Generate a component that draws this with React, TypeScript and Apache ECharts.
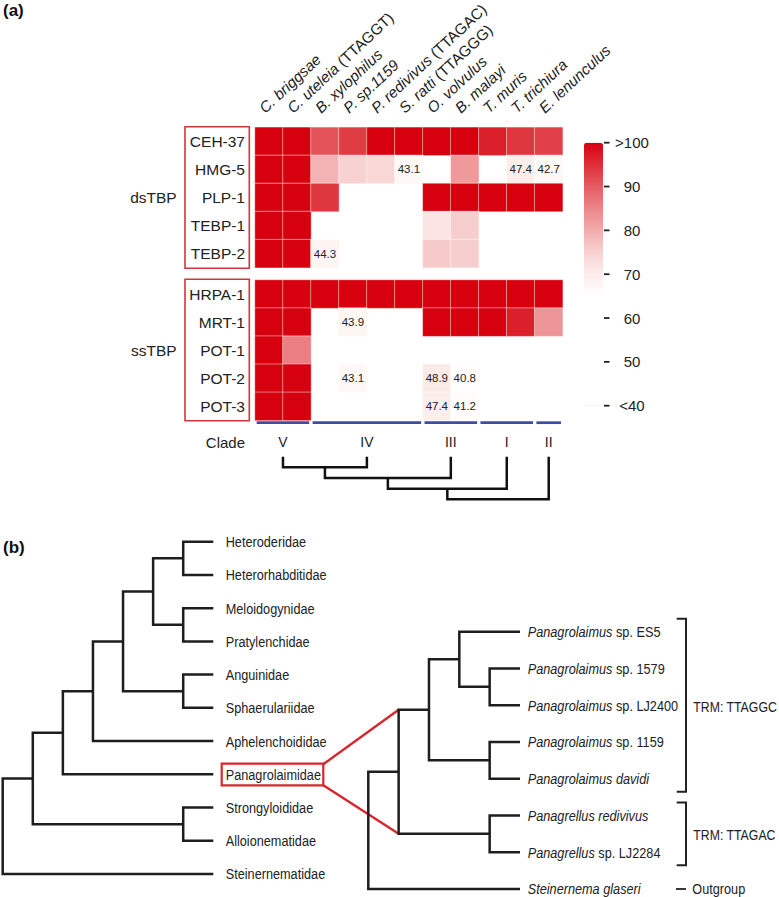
import React, { useEffect, useRef } from 'react';
import * as echarts from 'echarts';

// ---------- data ----------
const speciesNames = ['C. briggsae', 'C. uteleia', 'B. xylophilus', 'P. sp.1159', 'P. redivivus', 'S. ratti', 'O. volvulus', 'B. malayi', 'T. muris', 'T. trichiura', 'E. lenunculus'];
const speciesMotifs = ['', '(TTAGGT)', '', '', '(TTAGAC)', '(TTAGGG)', '', '', '', '', ''];

const dsRows = ['CEH-37', 'HMG-5', 'PLP-1', 'TEBP-1', 'TEBP-2'];
const ssRows = ['HRPA-1', 'MRT-1', 'POT-1', 'POT-2', 'POT-3'];

const N = null;
const dsValues: (number | null)[][] = [
  [100, 100, 91, 93.5, 100, 100, 100, 100, 96.5, 94, 93],
  [100, 100, 79, 75, 74, 43.1, N, 82.5, N, 47.4, 42.7],
  [100, 100, 94, N, N, N, 100, 100, 100, 100, 100],
  [100, 100, N, N, N, N, 71.5, 75.5, N, N, N],
  [100, 100, 44.3, N, N, N, 76, 75.5, N, N, N],
];
const ssValues: (number | null)[][] = [
  [100, 100, 100, 100, 100, 100, 100, 100, 100, 100, 100],
  [100, 100, N, 43.9, N, N, 100, 100, 100, 96.5, 83],
  [100, 86, N, N, N, N, N, N, N, N, N],
  [100, 100, N, 43.1, N, N, 48.9, 40.8, N, N, N],
  [100, 100, N, N, N, N, 47.4, 41.2, N, N, N],
];

const colorTicks = [40, 50, 60, 70, 80, 90, 100];
const colorTickLabels = ['<40', '50', '60', '70', '80', '90', '>100'];
// colour stops every 5 units from 40 to 100
const cellColorStops = ['#ffffff', '#fdf3f0', '#fbe9e3', '#fdf0ec', '#fff6f4', '#fffafa', '#fdecec', '#f8d2d2', '#f2abac', '#ec878a', '#e55c62', '#de2e37', '#d7000f'];
const barColorStops = ['#ffffff', '#ffffff', '#ffffff', '#ffffff', '#ffffff', '#ffffff', '#fdecec', '#f8d2d2', '#f2abac', '#ec878a', '#e55c62', '#de2e37', '#d7000f'];

const cladeNames = ['V', 'IV', 'III', 'I', 'II'];
const cladeStart = [0, 2, 6, 8, 10];
const cladeEnd = [2, 6, 8, 10, 11];
const cladeTree: any = [[[[0, 1], 2], 3], 4];

const familyLeaves = ['Heteroderidae', 'Heterorhabditidae', 'Meloidogynidae', 'Pratylenchidae', 'Anguinidae', 'Sphaerulariidae', 'Aphelenchoididae', 'Panagrolaimidae', 'Strongyloididae', 'Alloionematidae', 'Steinernematidae'];
const familyTree: any = [[[[[[[0, 1], [2, 3]], [4, 5]], 6], 7], [8, 9]], 10];
const zoomedFamily = 7;

const speciesItalic = ['Panagrolaimus', 'Panagrolaimus', 'Panagrolaimus', 'Panagrolaimus', 'Panagrolaimus davidi', 'Panagrellus redivivus', 'Panagrellus', 'Steinernema glaseri'];
const speciesPlain = [' sp. ES5', ' sp. 1579', ' sp. LJ2400', ' sp. 1159', '', '', ' sp. LJ2284', ''];
const speciesTree: any = [[[[0, [1, 2]], [3, 4]], [5, 6]], 7];

const bracketFrom = [0, 5, 7];
const bracketTo = [4, 6, 7];
const bracketLabels = ['TRM: TTAGGC', 'TRM: TTAGAC', 'Outgroup'];

// ---------- styles ----------
const FONT = "'Liberation Sans', Arial, Helvetica, sans-serif";
const INK = '#222222';
const BOXRED = '#d0363b';
const ZOOMRED = '#d7262c';
const CLADEBLUE = '#3d4e9e';
const NARROW_SCALE = 0.82;
const TREE_FONT = `15.5px ${FONT}`;
const HEADER_FONT = 15.2;
const HEADER_ROT = 43;

function layoutTree(tree: any, leafPos: number[], horizontal: boolean) {
  const nodes: any[] = [];
  const byRef = new Map<any, any>();
  const rec = (n: any): any => {
    if (typeof n === 'number') return { pos: leafPos[n], h: 0 };
    const a = rec(n[0]);
    const b = rec(n[1]);
    const r = { pos: (a.pos + b.pos) / 2, h: Math.max(a.h, b.h) + 1, a, b };
    nodes.push(r);
    byRef.set(n, r);
    return r;
  };
  const root = rec(tree);
  const maxH = root.h;
  const pt = (pos: number, h: number) => (horizontal ? [maxH - h, pos] : [pos, h]);
  const polylines = nodes.map((r) => [pt(r.a.pos, r.a.h), pt(r.a.pos, r.h), pt(r.b.pos, r.h), pt(r.b.pos, r.b.h)]);
  return { polylines, byRef, maxH, pt };
}

const cladeCenters = cladeStart.map((s, i) => (s + cladeEnd[i]) / 2);
const layClade = layoutTree(cladeTree, cladeCenters, false);
const layL = layoutTree(familyTree, familyLeaves.map((_, i) => i), true);
const layR = layoutTree(speciesTree, speciesItalic.map((_, i) => i), true);

function polySeries(idx: number, lay: any, color: string, width: number) {
  return {
    type: 'custom',
    xAxisIndex: idx,
    yAxisIndex: idx,
    silent: true,
    clip: false,
    encode: { x: 0, y: 1 },
    data: lay.polylines.map((pl: number[][]) => [pl[1][0], pl[1][1]]),
    renderItem: (params: any, api: any) => {
      const pl = lay.polylines[params.dataIndex];
      return {
        type: 'polyline',
        shape: { points: pl.map((p: number[]) => api.coord(p)) },
        style: { stroke: color, lineWidth: width, fill: null, lineJoin: 'miter' },
      };
    },
  };
}

function heatData(values: (number | null)[][]) {
  const out: number[][] = [];
  values.forEach((row, r) => row.forEach((v, c) => { if (v !== null) out.push([c, r, v]); }));
  return out;
}

function heatSeries(idx: number, values: (number | null)[][]) {
  return {
    type: 'heatmap',
    xAxisIndex: idx,
    yAxisIndex: idx,
    data: heatData(values),
    silent: true,
    itemStyle: { borderColor: 'rgba(255,255,255,0.45)', borderWidth: 1 },
    label: {
      show: true,
      formatter: (p: any) => (p.value[2] < 60 ? p.value[2].toFixed(1) : ''),
      fontFamily: FONT,
      fontSize: 11.5,
      color: INK,
    },
    emphasis: { disabled: true },
  };
}

function narrowText(text: string, x: number, y: number, extra: any = {}) {
  return {
    type: 'text', x, y, scaleX: NARROW_SCALE, scaleY: 1,
    style: { text, x: 0, y: 0, textAlign: 'left', textVerticalAlign: 'middle', font: TREE_FONT, fill: INK, ...extra },
  };
}

const gridBase = { containLabel: false, outerBoundsMode: 'none' };
const HM_LEFT = 255, HM_W = 307.7, HM_ROWH = 140.4;

const option: any = {
  animation: false,
  backgroundColor: '#ffffff',
  grid: [
    { ...gridBase, left: HM_LEFT, top: 127.3, width: HM_W, height: HM_ROWH },
    { ...gridBase, left: HM_LEFT, top: 280, width: HM_W, height: HM_ROWH },
    { ...gridBase, left: HM_LEFT - 7.5, top: 109, width: HM_W, height: 1 },
    { ...gridBase, left: 599, top: 142.7, width: 5, height: 263 },
    { ...gridBase, left: HM_LEFT, top: 456.7, width: HM_W, height: 42.6 },
    { ...gridBase, left: 2.7, top: 541.7, width: 210.6, height: 332.3 },
    { ...gridBase, left: 368.3, top: 631.7, width: 151.7, height: 257.3 },
  ],
  xAxis: [
    { gridIndex: 0, type: 'category', data: speciesNames, show: false },
    { gridIndex: 1, type: 'category', data: speciesNames, show: false },
    { gridIndex: 2, type: 'category', data: speciesNames, show: false },
    { gridIndex: 3, type: 'value', min: 0, max: 1, show: false },
    { gridIndex: 4, type: 'value', min: 0, max: 11, show: false },
    { gridIndex: 5, type: 'value', min: 0, max: layL.maxH, show: false },
    { gridIndex: 6, type: 'value', min: 0, max: layR.maxH, show: false },
  ],
  yAxis: [
    {
      gridIndex: 0, type: 'category', data: dsRows, inverse: true,
      axisLine: { show: false }, axisTick: { show: false },
      axisLabel: { margin: 10, fontFamily: FONT, fontSize: 15.5, color: INK },
    },
    {
      gridIndex: 1, type: 'category', data: ssRows, inverse: true,
      axisLine: { show: false }, axisTick: { show: false },
      axisLabel: { margin: 10, fontFamily: FONT, fontSize: 15.5, color: INK },
    },
    { gridIndex: 2, type: 'value', min: 0, max: 1, show: false },
    { gridIndex: 3, type: 'value', min: 40, max: 100, show: false },
    { gridIndex: 4, type: 'value', min: 0, max: 4, inverse: true, show: false },
    { gridIndex: 5, type: 'value', min: 0, max: familyLeaves.length - 1, inverse: true, show: false },
    { gridIndex: 6, type: 'value', min: 0, max: speciesItalic.length - 1, inverse: true, show: false },
  ],
  visualMap: [
    {
      type: 'continuous', show: false, seriesIndex: [0, 1], dimension: 2,
      min: 40, max: 100, inRange: { color: cellColorStops },
    },
    {
      type: 'continuous', show: true, seriesIndex: 2, min: 40, max: 100,
      left: 584, top: 142.7, itemWidth: 19, itemHeight: 263, padding: 0,
      calculable: false, hoverLink: false, inRange: { color: barColorStops },
    },
  ],
  series: [
    heatSeries(0, dsValues),
    heatSeries(1, ssValues),
    { type: 'scatter', xAxisIndex: 3, yAxisIndex: 3, data: [], silent: true },
    // colour-bar ticks and labels
    {
      type: 'custom', xAxisIndex: 3, yAxisIndex: 3, silent: true, clip: false,
      encode: { x: 0, y: 1 },
      data: colorTicks.map((v) => [1, v]),
      renderItem: (params: any, api: any) => {
        const i = params.dataIndex;
        const p = api.coord([1, colorTicks[i]]);
        return {
          type: 'group',
          children: [
            { type: 'line', shape: { x1: p[0], y1: p[1], x2: p[0] + 5.5, y2: p[1] }, style: { stroke: INK, lineWidth: 1.8 } },
            { type: 'text', style: { text: colorTickLabels[i], x: p[0] + 28, y: p[1], textAlign: 'center', textVerticalAlign: 'middle', font: `15px ${FONT}`, fill: INK } },
          ],
        };
      },
    },
    // species header labels
    {
      type: 'custom', xAxisIndex: 2, yAxisIndex: 2, silent: true, clip: false,
      encode: { x: 0, y: 1 },
      data: speciesNames.map((_, i) => [i, 0]),
      renderItem: (params: any, api: any) => {
        const i = params.dataIndex;
        const c = api.coord([i, 0]);
        const text = `{i|${speciesNames[i]}}` + (speciesMotifs[i] ? `{n| ${speciesMotifs[i]}}` : '');
        return {
          type: 'text', x: c[0], y: c[1], rotation: (HEADER_ROT * Math.PI) / 180,
          style: {
            text, x: 0, y: 0, textAlign: 'left', textVerticalAlign: 'middle',
            font: `italic ${HEADER_FONT}px ${FONT}`, fill: INK,
            rich: {
              i: { font: `italic ${HEADER_FONT}px ${FONT}`, fill: INK },
              n: { font: `${HEADER_FONT}px ${FONT}`, fill: INK },
            },
          },
        };
      },
    },
    // clade bars + labels
    {
      type: 'custom', xAxisIndex: 4, yAxisIndex: 4, silent: true, clip: false,
      encode: { x: 0, y: 1 },
      data: cladeCenters.map((c) => [c, 0]),
      renderItem: (params: any, api: any) => {
        const i = params.dataIndex;
        const a = api.coord([cladeStart[i] + 0.06, 0]);
        const b = api.coord([cladeEnd[i] - 0.06, 0]);
        const c = api.coord([cladeCenters[i], 0]);
        return {
          type: 'group',
          children: [
            { type: 'line', shape: { x1: a[0], y1: a[1] - 34, x2: b[0], y2: b[1] - 34 }, style: { stroke: CLADEBLUE, lineWidth: 2.7 } },
            { type: 'text', x: c[0], y: c[1] - 15, scaleX: 0.9, style: { text: cladeNames[i], x: 0, y: 0, textAlign: 'center', textVerticalAlign: 'middle', font: `15.5px ${FONT}`, fill: INK } },
          ],
        };
      },
    },
    polySeries(4, layClade, '#111111', 2.5),
    polySeries(5, layL, '#1e1e1e', 2.5),
    // family labels
    {
      type: 'custom', xAxisIndex: 5, yAxisIndex: 5, silent: true, clip: false,
      encode: { x: 0, y: 1 },
      data: familyLeaves.map((_, i) => [layL.maxH, i]),
      renderItem: (params: any, api: any) => {
        const i = params.dataIndex;
        const p = api.coord([layL.maxH, i]);
        return narrowText(familyLeaves[i], p[0] + 12.4, p[1]);
      },
    },
    polySeries(6, layR, '#1e1e1e', 2.5),
    // species labels
    {
      type: 'custom', xAxisIndex: 6, yAxisIndex: 6, silent: true, clip: false,
      encode: { x: 0, y: 1 },
      data: speciesItalic.map((_, i) => [layR.maxH, i]),
      renderItem: (params: any, api: any) => {
        const i = params.dataIndex;
        const p = api.coord([layR.maxH, i]);
        const text = `{i|${speciesItalic[i]}}` + (speciesPlain[i] ? `{n|${speciesPlain[i]}}` : '');
        return narrowText(text, p[0] + 7.7, p[1], {
          rich: {
            i: { font: `italic ${TREE_FONT}`, fill: INK },
            n: { font: TREE_FONT, fill: INK },
          },
        });
      },
    },
    // brackets
    {
      type: 'custom', xAxisIndex: 6, yAxisIndex: 6, silent: true, clip: false,
      encode: { x: 0, y: 1 },
      data: bracketFrom.map((f, i) => [layR.maxH, (f + bracketTo[i]) / 2]),
      renderItem: (params: any, api: any) => {
        const i = params.dataIndex;
        const top = api.coord([layR.maxH, bracketFrom[i]]);
        const bot = api.coord([layR.maxH, bracketTo[i]]);
        const mid = api.coord([layR.maxH, (bracketFrom[i] + bracketTo[i]) / 2]);
        const bx = top[0] + 166;
        const children: any[] = [];
        if (bracketFrom[i] === bracketTo[i]) {
          children.push({ type: 'line', shape: { x1: bx - 10, y1: mid[1], x2: bx, y2: mid[1] }, style: { stroke: INK, lineWidth: 1.8 } });
          children.push(narrowText(bracketLabels[i], bx + 6.3, mid[1]));
        } else {
          const y1 = top[1] - 13, y2 = bot[1] + 13;
          children.push({ type: 'polyline', shape: { points: [[bx - 9.3, y1], [bx, y1], [bx, y2], [bx - 9.3, y2]] }, style: { stroke: INK, lineWidth: 2, fill: null } });
          children.push(narrowText(bracketLabels[i], bx + 7.3, mid[1] + 1.5, { font: `15px ${FONT}` }));
        }
        return { type: 'group', children };
      },
    },
  ],
  graphic: [
    { type: 'text', x: 3, y: 10, style: { text: '(a)', font: `bold 17px ${FONT}`, fill: '#111', textAlign: 'left', textVerticalAlign: 'middle' } },
    { type: 'text', x: 3, y: 547, style: { text: '(b)', font: `bold 17px ${FONT}`, fill: '#111', textAlign: 'left', textVerticalAlign: 'middle' } },
    { type: 'text', x: 176.7, y: 197.5, style: { text: 'dsTBP', font: `15.5px ${FONT}`, fill: INK, textAlign: 'right', textVerticalAlign: 'middle' } },
    { type: 'text', x: 176.7, y: 350, style: { text: 'ssTBP', font: `15.5px ${FONT}`, fill: INK, textAlign: 'right', textVerticalAlign: 'middle' } },
    { type: 'text', x: 245, y: 442, style: { text: 'Clade', font: `15px ${FONT}`, fill: INK, textAlign: 'right', textVerticalAlign: 'middle' } },
    { type: 'rect', shape: { x: 185, y: 126.7, width: 64.3, height: 141.6 }, style: { stroke: BOXRED, lineWidth: 1.6, fill: 'none' } },
    { type: 'rect', shape: { x: 185, y: 279.3, width: 64.3, height: 141.4 }, style: { stroke: BOXRED, lineWidth: 1.6, fill: 'none' } },
  ],
};

export default function App() {
  const ref = useRef<HTMLDivElement>(null);
  useEffect(() => {
    if (!ref.current) return;
    const chart = echarts.init(ref.current, null, { renderer: 'svg' });
    chart.setOption(option);
    // highlight box around the zoomed family and the connecting lines to the species tree
    const tip = chart.convertToPixel({ gridIndex: 5 }, [layL.maxH, zoomedFamily]) as number[];
    const ingroup = layR.byRef.get(speciesTree[0]);
    const upper = chart.convertToPixel({ gridIndex: 6 }, layR.pt(ingroup.a.pos, ingroup.h)) as number[];
    const lower = chart.convertToPixel({ gridIndex: 6 }, layR.pt(ingroup.b.pos, ingroup.h)) as number[];
    const bx0 = tip[0] + 8.4, bx1 = tip[0] + 110, by0 = tip[1] - 10.7, by1 = tip[1] + 11;
    chart.setOption({
      graphic: [
        ...option.graphic,
        { type: 'rect', shape: { x: bx0, y: by0, width: bx1 - bx0, height: by1 - by0 }, style: { stroke: ZOOMRED, lineWidth: 2.2, fill: 'none' } },
        { type: 'line', shape: { x1: bx1, y1: by0 + 0.6, x2: upper[0], y2: upper[1] }, style: { stroke: ZOOMRED, lineWidth: 2.4 } },
        { type: 'line', shape: { x1: bx1, y1: by1, x2: lower[0], y2: lower[1] }, style: { stroke: ZOOMRED, lineWidth: 2.4 } },
      ],
    });
    return () => chart.dispose();
  }, []);
  return <div ref={ref} style={{ position: 'fixed', left: 0, top: 0, width: 779, height: 897, background: '#ffffff' }} />;
}
